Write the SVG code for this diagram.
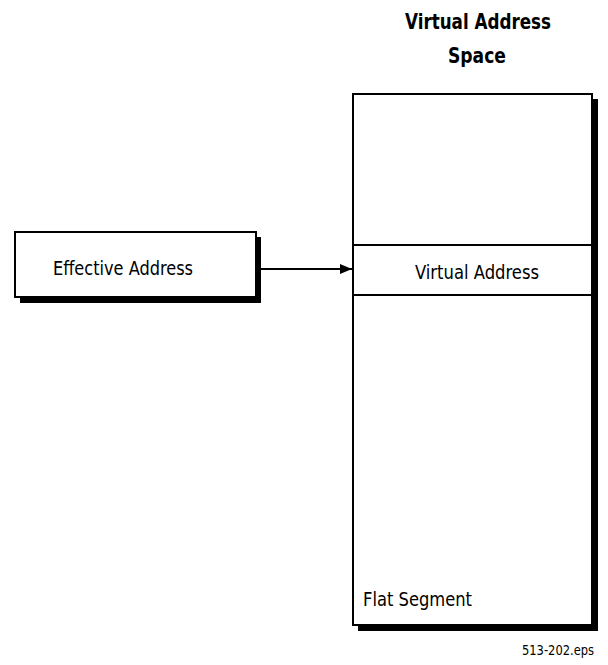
<svg xmlns="http://www.w3.org/2000/svg" width="608" height="665" viewBox="0 0 608 665">
<style>
.shadow{fill:#000;}
.box{fill:#fff;stroke:#000;stroke-width:2;}
.line{stroke:#000;stroke-width:2;fill:none;}
.t{font-family:"Liberation Sans Narrow","DejaVu Sans Condensed","Liberation Sans",sans-serif;fill:#000;}
</style>
<defs>
<marker id="arr" markerWidth="12" markerHeight="10" refX="12" refY="5" orient="auto" markerUnits="userSpaceOnUse">
<path d="M0,0 L12,5 L0,10 Z" fill="#000"/>
</marker>
</defs>
<text class="t" x="405" y="29" font-size="21" font-weight="bold" textLength="146" lengthAdjust="spacingAndGlyphs">Virtual Address</text>
<text class="t" x="448" y="63" font-size="21" font-weight="bold" textLength="58" lengthAdjust="spacingAndGlyphs">Space</text>
<g id="effective">
<rect class="shadow" x="20" y="237" width="241" height="66"/>
<rect class="box" x="15" y="232" width="241" height="65"/>
<text class="t" x="53" y="275" font-size="19" textLength="140" lengthAdjust="spacingAndGlyphs">Effective Address</text>
</g>
<g id="vas">
<rect class="shadow" x="358" y="99" width="240" height="532"/>
<rect class="box" x="353" y="94" width="239" height="531"/>
<line class="line" x1="353" y1="245" x2="592" y2="245"/>
<line class="line" x1="353" y1="295" x2="592" y2="295"/>
<text class="t" x="415" y="279" font-size="19" textLength="124" lengthAdjust="spacingAndGlyphs">Virtual Address</text>
<text class="t" x="363" y="606" font-size="19" textLength="109" lengthAdjust="spacingAndGlyphs">Flat Segment</text>
</g>
<g id="connectors">
<line class="line" x1="261" y1="269" x2="352" y2="269" marker-end="url(#arr)"/>
</g>
<text class="t" x="522" y="655" font-size="14" textLength="72" lengthAdjust="spacingAndGlyphs">513-202.eps</text>
</svg>
